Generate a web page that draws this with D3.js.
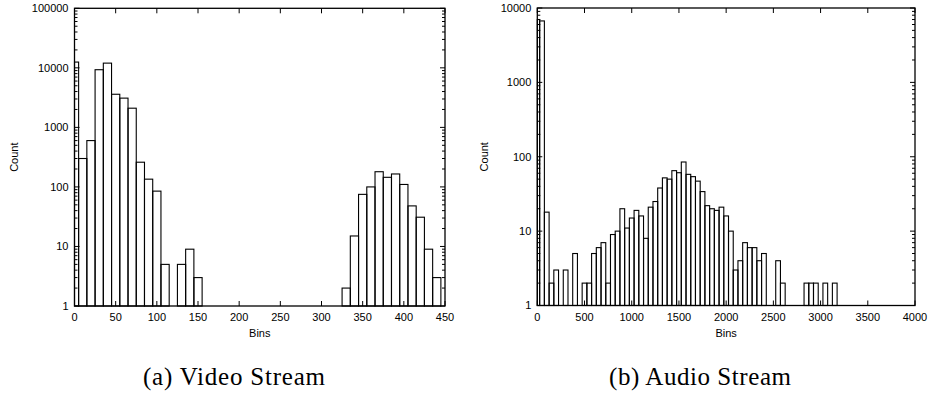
<!DOCTYPE html>
<html>
<head>
<meta charset="utf-8">
<script src="https://cdn.jsdelivr.net/npm/d3@7"></script>
<style>
  body { margin: 0; background: #fff; }
  svg { display: block; }
  text { font-family: "Liberation Sans", Arial, sans-serif; fill: #000; }
  .caption { font-family: "Liberation Serif", "Times New Roman", serif; }
</style>
</head>
<body>
<script>
// Video stream histogram (bin width 10, bins centered on multiples of 10)
const videoBins = [0, 10, 20, 30, 40, 50, 60, 70, 80, 90, 100, 110, 130, 140, 150,
  330, 340, 350, 360, 370, 380, 390, 400, 410, 420, 430, 440];
const videoCounts = [12500, 300, 600, 9300, 12000, 3600, 3100, 2100, 260, 135, 85, 5, 5, 9, 3,
  2, 15, 75, 100, 180, 145, 165, 110, 48, 31, 9, 3];

// Audio stream histogram (bin width 50)
const audioBins = [0, 50, 100, 150, 200, 300, 400, 500, 550, 600, 650, 700, 750, 800, 850, 900, 950,
  1000, 1050, 1100, 1150, 1200, 1250, 1300, 1350, 1400, 1450, 1500, 1550, 1600, 1650, 1700, 1750,
  1800, 1850, 1900, 1950, 2000, 2050, 2100, 2150, 2200, 2250, 2300, 2350, 2400, 2550, 2600,
  2850, 2900, 2950, 3050, 3150];
const audioCounts = [7000, 6700, 18, 2, 3, 3, 5, 2, 2, 5, 6, 7, 2, 9, 10, 20, 11,
  15, 19, 16, 8, 21, 25, 38, 52, 50, 65, 61, 85, 58, 54, 47, 34,
  22, 20, 19, 21, 16, 10, 3, 4, 7, 6, 6, 4, 5, 4, 2,
  2, 2, 2, 2, 2];

const videoXTicks = [0, 50, 100, 150, 200, 250, 300, 350, 400, 450];
const videoYTicks = [1, 10, 100, 1000, 10000, 100000];
const audioXTicks = [0, 500, 1000, 1500, 2000, 2500, 3000, 3500, 4000];
const audioYTicks = [1, 10, 100, 1000, 10000];

const svg = d3.select("body").append("svg").attr("width", 929).attr("height", 395);

function drawHist(opts) {
  const { left, right, top, bottom, xMax, yMax, bins, counts, width, xTicks, yTicks, labelX, caption, captionX } = opts;

  const x = d3.scaleLinear().domain([0, xMax]).range([left, right]);
  const y = d3.scaleLog().domain([1, yMax]).range([bottom, top]);

  const g = svg.append("g");

  // Bars (clipped to the plot area at the left edge)
  g.selectAll("rect.bar")
    .data(bins.map((b, i) => ({ b, c: counts[i] })))
    .enter()
    .append("rect")
    .attr("class", "bar")
    .attr("x", (d) => Math.max(x(d.b - width / 2), x(0)))
    .attr("width", (d) => x(d.b + width / 2) - Math.max(x(d.b - width / 2), x(0)))
    .attr("y", (d) => y(d.c))
    .attr("height", (d) => bottom - y(d.c))
    .attr("fill", "none")
    .attr("stroke", "#000")
    .attr("stroke-width", 1.1);

  // Minor ticks on log axis
  const minor = [];
  for (let d = 1; d < yMax; d *= 10) {
    for (let k = 2; k <= 9; k++) minor.push(d * k);
  }
  const tickG = g.append("g").attr("stroke", "#000").attr("stroke-width", 1);
  minor.forEach((v) => {
    tickG.append("line").attr("x1", left).attr("x2", left + 3).attr("y1", y(v)).attr("y2", y(v));
    tickG.append("line").attr("x1", right).attr("x2", right - 3).attr("y1", y(v)).attr("y2", y(v));
  });
  yTicks.forEach((v) => {
    tickG.append("line").attr("x1", left).attr("x2", left + 5).attr("y1", y(v)).attr("y2", y(v));
    tickG.append("line").attr("x1", right).attr("x2", right - 5).attr("y1", y(v)).attr("y2", y(v));
  });
  xTicks.forEach((v) => {
    tickG.append("line").attr("x1", x(v)).attr("x2", x(v)).attr("y1", bottom).attr("y2", bottom - 5);
    tickG.append("line").attr("x1", x(v)).attr("x2", x(v)).attr("y1", top).attr("y2", top + 5);
  });

  // Frame
  g.append("rect")
    .attr("x", left)
    .attr("y", top)
    .attr("width", right - left)
    .attr("height", bottom - top)
    .attr("fill", "none")
    .attr("stroke", "#000")
    .attr("stroke-width", 1.3);

  // Tick labels
  g.selectAll("text.ytick")
    .data(yTicks)
    .enter()
    .append("text")
    .attr("x", left - 6)
    .attr("y", (d) => y(d))
    .attr("dy", "0.35em")
    .attr("text-anchor", "end")
    .style("font-size", "11px")
    .text((d) => d);

  g.selectAll("text.xtick")
    .data(xTicks)
    .enter()
    .append("text")
    .attr("x", (d) => x(d))
    .attr("y", bottom + 15)
    .attr("text-anchor", "middle")
    .style("font-size", "11px")
    .text((d) => d);

  // Axis titles
  g.append("text")
    .attr("transform", `translate(${labelX},${(top + bottom) / 2}) rotate(-90)`)
    .attr("dy", "0.35em")
    .attr("text-anchor", "middle")
    .style("font-size", "11px")
    .text("Count");

  g.append("text")
    .attr("x", (left + right) / 2)
    .attr("y", bottom + 31)
    .attr("text-anchor", "middle")
    .style("font-size", "11px")
    .text("Bins");

  // Caption
  g.append("text")
    .attr("class", "caption")
    .attr("x", captionX)
    .attr("y", 385)
    .attr("text-anchor", "middle")
    .attr("textLength", 182)
    .attr("lengthAdjust", "spacing")
    .style("font-size", "25px")
    .text(caption);
}

drawHist({
  left: 74.5, right: 445, top: 8.3, bottom: 306,
  xMax: 450, yMax: 100000,
  bins: videoBins, counts: videoCounts, width: 10,
  xTicks: videoXTicks, yTicks: videoYTicks,
  labelX: 14, caption: "(a) Video Stream", captionX: 234
});

drawHist({
  left: 537.3, right: 915, top: 8, bottom: 305.5,
  xMax: 4000, yMax: 10000,
  bins: audioBins, counts: audioCounts, width: 50,
  xTicks: audioXTicks, yTicks: audioYTicks,
  labelX: 484, caption: "(b) Audio Stream", captionX: 700
});
</script>
</body>
</html>
